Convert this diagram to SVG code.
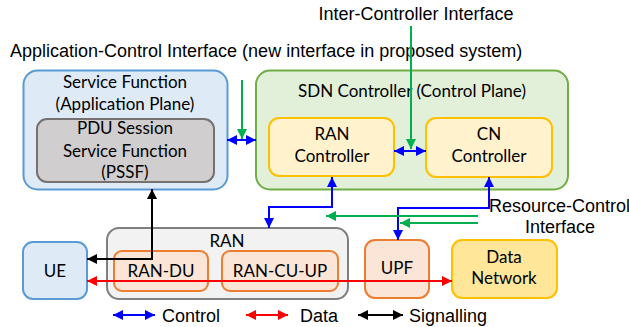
<svg xmlns="http://www.w3.org/2000/svg" width="629" height="327" viewBox="0 0 629 327">
<defs>
<marker id="ab" viewBox="0 0 10 10" refX="10" refY="5" markerWidth="10" markerHeight="10" markerUnits="userSpaceOnUse" orient="auto-start-reverse"><path d="M0,0 L10,5 L0,10 Z" fill="#0000ff"/></marker>
<marker id="ar" viewBox="0 0 10 10" refX="10" refY="5" markerWidth="10" markerHeight="10" markerUnits="userSpaceOnUse" orient="auto-start-reverse"><path d="M0,0 L10,5 L0,10 Z" fill="#ff0000"/></marker>
<marker id="ak" viewBox="0 0 10 10" refX="10" refY="5" markerWidth="10" markerHeight="10" markerUnits="userSpaceOnUse" orient="auto-start-reverse"><path d="M0,0 L10,5 L0,10 Z" fill="#000000"/></marker>
<marker id="ag" viewBox="0 0 10 10" refX="10" refY="5" markerWidth="10" markerHeight="10" markerUnits="userSpaceOnUse" orient="auto-start-reverse"><path d="M0,0 L10,5 L0,10 Z" fill="#00b050"/></marker>
</defs>
<style>
.lbl{font-family:Lato,"Liberation Sans",sans-serif;font-size:17px;fill:#000;text-anchor:middle}
.arial{font-family:"Liberation Sans",Arial,sans-serif;font-size:18px;fill:#000}
.box{stroke-width:2}
.blue{fill:#deebf7;stroke:#5b9bd5}
.grey{fill:#d0cece;stroke:#767171}
.green{fill:#e2f0d9;stroke:#70ad47}
.yel{fill:#fff2cc;stroke:#ffc000}
.ran{fill:#f2f2f2;stroke:#7f7f7f}
.org{fill:#fbe5d6;stroke:#ed7d31}
.dn{fill:#ffe699;stroke:#ffc000}
.c{fill:none;stroke-width:2}
.cb{stroke:#0000ff}
.cr{stroke:#ff0000}
.ck{stroke:#000}
.cg{stroke:#00b050}
</style>
<text class="arial" x="416" y="20" text-anchor="middle">Inter-Controller Interface</text>
<text class="arial" x="10" y="57">Application-Control Interface (new interface in proposed system)</text>
<text class="arial" x="489" y="212">Resource-Control</text>
<text class="arial" x="525" y="233">Interface</text>

<g id="service-function">
<rect class="box blue" x="23.5" y="70.5" width="204" height="119" rx="14"/>
<text class="lbl" x="125" y="88">Service Function</text>
<text class="lbl" x="125" y="110">(Application Plane)</text>
</g>
<g id="pssf">
<rect class="box grey" x="37" y="119" width="177" height="63" rx="10"/>
<text class="lbl" x="125" y="134">PDU Session</text>
<text class="lbl" x="125" y="157">Service Function</text>
<text class="lbl" x="125" y="178">(PSSF)</text>
</g>
<g id="sdn-controller">
<rect class="box green" x="256" y="70.5" width="312" height="119" rx="14"/>
<text class="lbl" x="412" y="97">SDN Controller (Control Plane)</text>
</g>
<g id="ran-controller">
<rect class="box yel" x="269" y="118" width="125" height="58" rx="10"/>
<text class="lbl" x="332" y="140">RAN</text>
<text class="lbl" x="332" y="162">Controller</text>
</g>
<g id="cn-controller">
<rect class="box yel" x="426" y="118" width="126" height="59" rx="10"/>
<text class="lbl" x="489" y="140">CN</text>
<text class="lbl" x="489" y="162">Controller</text>
</g>
<g id="ran">
<rect class="box ran" x="107" y="228" width="241" height="71" rx="12"/>
<text class="lbl" x="227" y="247">RAN</text>
</g>
<g id="ran-du">
<rect class="box org" x="114" y="251" width="94" height="40" rx="8"/>
<text class="lbl" x="161" y="277">RAN-DU</text>
</g>
<g id="ran-cu-up">
<rect class="box org" x="222" y="251" width="116" height="40" rx="8"/>
<text class="lbl" x="280" y="277">RAN-CU-UP</text>
</g>
<g id="ue">
<rect class="box blue" x="23" y="242" width="64" height="57" rx="10"/>
<text class="lbl" x="55" y="277">UE</text>
</g>
<g id="upf">
<rect class="box org" x="365" y="240" width="64" height="58" rx="10"/>
<text class="lbl" x="397" y="274">UPF</text>
</g>
<g id="data-network">
<rect class="box dn" x="452" y="240" width="105" height="58" rx="10"/>
<text class="lbl" x="504" y="263">Data</text>
<text class="lbl" x="504" y="284">Network</text>
</g>

<g id="connectors">
<path class="c cg" d="M242,80 V139" marker-end="url(#ag)"/>
<path class="c cb" d="M227,140 H256" marker-start="url(#ab)" marker-end="url(#ab)"/>
<path class="c cg" d="M411,26 V149" marker-end="url(#ag)"/>
<path class="c cb" d="M394,151 H426" marker-start="url(#ab)" marker-end="url(#ab)"/>
<path class="c cb" d="M332,177 V207 H269 V228" marker-start="url(#ab)" marker-end="url(#ab)"/>
<path class="c cb" d="M489,177 V208 H398 V240" marker-start="url(#ab)" marker-end="url(#ab)"/>
<path class="c cg" d="M478,216 H326" marker-end="url(#ag)"/>
<path class="c cg" d="M478,223 H400" marker-end="url(#ag)"/>
<path class="c ck" d="M152,189 V259 H87" marker-start="url(#ak)" marker-end="url(#ak)"/>
<path class="c cr" d="M87,281 H452" marker-start="url(#ar)" marker-end="url(#ar)"/>
</g>

<g id="legend">
<path class="c cb" d="M113,315 H155" marker-start="url(#ab)" marker-end="url(#ab)"/>
<text class="arial" x="162" y="322">Control</text>
<path class="c cr" d="M246,315 H288" marker-start="url(#ar)" marker-end="url(#ar)"/>
<text class="arial" x="300" y="322">Data</text>
<path class="c ck" d="M358,315 H403" marker-start="url(#ak)" marker-end="url(#ak)"/>
<text class="arial" x="409" y="322">Signalling</text>
</g>
</svg>
